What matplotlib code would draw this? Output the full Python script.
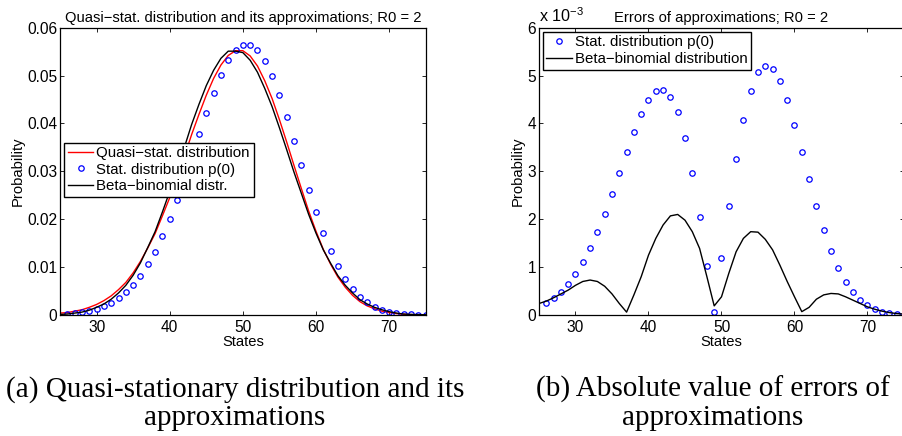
import numpy as np
import matplotlib
matplotlib.use("Agg")
import matplotlib.pyplot as plt
from matplotlib.ticker import FuncFormatter

plt.rcParams['font.family'] = ['Liberation Sans', 'DejaVu Sans']
plt.rcParams['mathtext.fontset'] = 'custom'
plt.rcParams['mathtext.rm'] = 'Liberation Sans'
plt.rcParams['font.size'] = 10.6

# --- Data ---
states_line = np.arange(25, 76)   # states for the curves
states_pts = np.arange(26, 76)    # states for the circles

stat_p0 = [0.00014, 0.00035, 0.00056, 0.0009, 0.0013, 0.0019, 0.0026, 0.0036, 0.0047, 0.0063,
           0.0082, 0.0106, 0.0132, 0.0165, 0.0200, 0.0240, 0.0284, 0.0331, 0.0377, 0.0422,
           0.0464, 0.0501, 0.0532, 0.0553, 0.0564, 0.0564, 0.0553, 0.0530, 0.0499, 0.0459,
           0.0413, 0.0363, 0.0313, 0.0262, 0.0215, 0.0171, 0.0134, 0.0102, 0.0076, 0.0054,
           0.0038, 0.0027, 0.0017, 0.0011, 0.0007, 0.0004, 0.0002, 0.00014, 0.0001, 0.00005]

quasi_stat = [0.0004, 0.0005, 0.0008, 0.0011, 0.0016, 0.0022, 0.0030, 0.0040, 0.0053, 0.0068,
              0.0088, 0.0112, 0.0140, 0.0170, 0.0207, 0.0245, 0.0287, 0.0331, 0.0377, 0.0419,
              0.0459, 0.0494, 0.0522, 0.0542, 0.0552, 0.0552, 0.0541, 0.0520, 0.0489, 0.0452,
              0.0408, 0.0361, 0.0312, 0.0264, 0.0217, 0.0175, 0.0137, 0.0106, 0.0079, 0.0058,
              0.0041, 0.0028, 0.0019, 0.0013, 0.0008, 0.0005, 0.0003, 0.00013, 0.00008, 0.00005,
              0.00003]

beta_binom = [0.00012, 0.0002, 0.0004, 0.0006, 0.0010, 0.0016, 0.0023, 0.0033, 0.0046, 0.0062,
              0.0083, 0.0109, 0.0141, 0.0174, 0.0215, 0.0258, 0.0303, 0.0350, 0.0398, 0.0440,
              0.0479, 0.0511, 0.0536, 0.0551, 0.0551, 0.0548, 0.0532, 0.0507, 0.0473, 0.0435,
              0.0391, 0.0345, 0.0298, 0.0254, 0.0210, 0.0171, 0.0136, 0.0108, 0.0082, 0.0062,
              0.0046, 0.0032, 0.0023, 0.0016, 0.0011, 0.0007, 0.0004, 0.0002, 0.00013, 0.00008,
              0.00005]

err_p0 = [0.26e-3, 0.36e-3, 0.49e-3, 0.65e-3, 0.86e-3, 1.10e-3, 1.39e-3, 1.73e-3, 2.11e-3, 2.52e-3,
          2.96e-3, 3.40e-3, 3.82e-3, 4.20e-3, 4.50e-3, 4.68e-3, 4.70e-3, 4.56e-3, 4.23e-3, 3.69e-3,
          2.96e-3, 2.05e-3, 1.02e-3, 0.07e-3, 1.20e-3, 2.28e-3, 3.26e-3, 4.07e-3, 4.68e-3, 5.07e-3,
          5.21e-3, 5.14e-3, 4.89e-3, 4.48e-3, 3.97e-3, 3.40e-3, 2.83e-3, 2.28e-3, 1.77e-3, 1.34e-3,
          0.98e-3, 0.69e-3, 0.47e-3, 0.31e-3, 0.20e-3, 0.13e-3, 0.07e-3, 0.04e-3, 0.02e-3, 0.01e-3]

err_beta = [0.24e-3, 0.29e-3, 0.36e-3, 0.44e-3, 0.52e-3, 0.62e-3, 0.70e-3, 0.73e-3, 0.70e-3, 0.60e-3,
            0.44e-3, 0.24e-3, 0.06e-3, 0.42e-3, 0.80e-3, 1.25e-3, 1.60e-3, 1.88e-3, 2.07e-3, 2.10e-3,
            1.98e-3, 1.74e-3, 1.39e-3, 0.80e-3, 0.19e-3, 0.38e-3, 0.87e-3, 1.32e-3, 1.60e-3, 1.74e-3,
            1.73e-3, 1.58e-3, 1.36e-3, 1.04e-3, 0.70e-3, 0.38e-3, 0.07e-3, 0.16e-3, 0.33e-3, 0.42e-3,
            0.45e-3, 0.44e-3, 0.38e-3, 0.31e-3, 0.24e-3, 0.17e-3, 0.12e-3, 0.08e-3, 0.05e-3, 0.03e-3,
            0.02e-3]

left_yticks = [0, 0.01, 0.02, 0.03, 0.04, 0.05, 0.06]
right_yticks = [0, 1e-3, 2e-3, 3e-3, 4e-3, 5e-3, 6e-3]
xticks = [30, 40, 50, 60, 70]

fig = plt.figure(figsize=(9.03, 4.36), dpi=100)
W, H = 903.0, 436.0


def make_axes(left_px, right_px):
    top_px, bottom_px = 27.7, 315.0
    ax = fig.add_axes([left_px / W, 1 - bottom_px / H,
                       (right_px - left_px) / W, (bottom_px - top_px) / H])
    ax.set_xlim(25, 75)
    ax.set_xticks(xticks)
    ax.tick_params(direction='in', length=3, width=0.6, top=True, right=True,
                   labelsize=11.2)
    ax.tick_params(axis='x', pad=3.5)
    ax.tick_params(axis='y', pad=2)
    for s in ax.spines.values():
        s.set_linewidth(0.9)
    ax.set_xlabel('States', labelpad=0)
    return ax


# --- (a) distributions ---
ax1 = make_axes(60.0, 425.7)
ax1.plot(states_line, quasi_stat, color='red', lw=1.0, label='Quasi\u2212stat. distribution')
ax1.plot(states_pts, stat_p0, 'o', mfc='none', mec='blue', ms=3.9, mew=0.9,
         label='Stat. distribution p(0)')
ax1.plot(states_line, beta_binom, color='black', lw=1.0, label='Beta\u2212binomial distr.')
ax1.set_ylim(0, 0.06)
ax1.set_yticks(left_yticks)
ax1.yaxis.set_major_formatter(FuncFormatter(lambda v, p: f"{v:g}"))
ax1.set_ylabel('Probability', labelpad=2)
ax1.set_title('Quasi\u2212stat. distribution and its approximations; R0 = 2',
              fontsize=10.6, pad=4)
leg1 = ax1.legend(loc='upper left', bbox_to_anchor=(0.011, 0.5997), borderaxespad=0,
                  fancybox=False, framealpha=1, edgecolor='black', numpoints=1,
                  handlelength=1.7, handletextpad=0.2, labelspacing=0.15,
                  borderpad=0.25, fontsize=10.8)
leg1.get_frame().set_linewidth(1.0)

# --- (b) errors ---
ax2 = make_axes(539.0, 904.0)
ax2.plot(states_pts, err_p0, 'o', mfc='none', mec='blue', ms=3.9, mew=0.9,
         label='Stat. distribution p(0)')
ax2.plot(states_line, err_beta, color='black', lw=1.0, label='Beta\u2212binomial distribution')
ax2.set_ylim(0, 6e-3)
ax2.set_yticks(right_yticks)
ax2.yaxis.set_major_formatter(FuncFormatter(lambda v, p: f"{v * 1e3:g}"))
ax2.set_ylabel('Probability', labelpad=2)
ax2.set_title('Errors of approximations; R0 = 2', fontsize=10.6, pad=4)
ax2.text(0.0, 1.01, 'x 10$^{\u22123}$', transform=ax2.transAxes, ha='left', va='bottom',
         fontsize=11.6)
leg2 = ax2.legend(loc='upper left', bbox_to_anchor=(0.0101, 0.986), borderaxespad=0,
                  fancybox=False, framealpha=1, edgecolor='black', numpoints=1,
                  handlelength=1.7, handletextpad=0.2, labelspacing=0.2,
                  borderpad=0.25, fontsize=10.8)
leg2.get_frame().set_linewidth(1.0)

# --- captions ---
cap = dict(family=['Liberation Serif', 'DejaVu Serif'], fontsize=21, ha='center', va='baseline')
fig.text(235 / W, 1 - 397 / H, '(a) Quasi-stationary distribution and its', **cap)
fig.text(235 / W, 1 - 424.5 / H, 'approximations', **cap)
fig.text(713 / W, 1 - 397 / H, '(b) Absolute value of errors of', **cap)
fig.text(713 / W, 1 - 424.5 / H, 'approximations', **cap)

fig.savefig('out.png', dpi=100)
